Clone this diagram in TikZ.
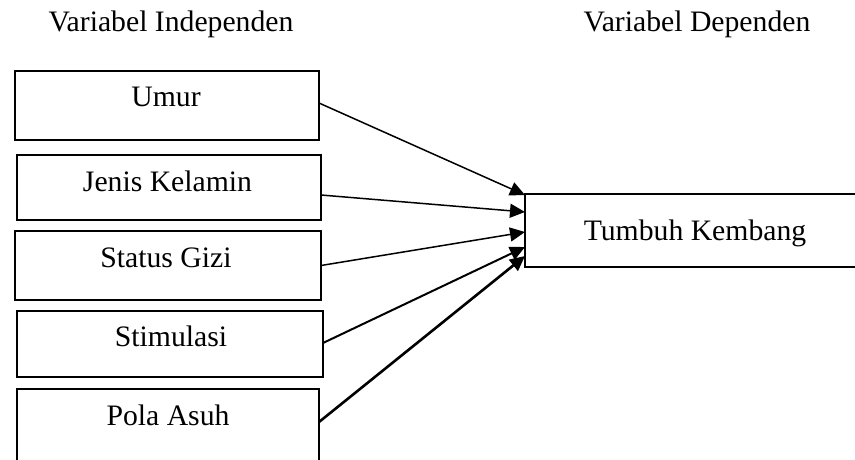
\documentclass[tikz,border=0pt]{standalone}
\usepackage{fontspec}
\setmainfont{Liberation Serif}
\usetikzlibrary{arrows.meta}
\begin{document}
\begin{tikzpicture}[x=1pt,y=-1pt,
  box/.style={draw,line width=2pt,inner sep=0pt,outer sep=0pt,rectangle},
  lbl/.style={inner sep=0pt,anchor=base,font=\fontsize{29.7}{34}\selectfont},
  arr/.style={line width=1.5pt,-{Triangle[length=15pt,width=14pt]}}]
\useasboundingbox (0,0) rectangle (855,459);
% headings
\node[lbl] (hind) at (171,31) {Variabel Independen};
\node[lbl] (hdep) at (697,31) {Variabel Dependen};
% independent variable boxes
\node[box,minimum width=304pt,minimum height=69pt] (umur) at (167,105.5) {};
\node[box,minimum width=304pt,minimum height=65pt] (jenis) at (169,187.5) {};
\node[box,minimum width=306pt,minimum height=69pt] (status) at (168,265.5) {};
\node[box,minimum width=306pt,minimum height=66pt] (stim) at (170,344) {};
\node[box,minimum width=302pt,minimum height=81pt] (pola) at (168,429.5) {};
% dependent variable box
\node[box,minimum width=345pt,minimum height=73pt] (tk) at (697.5,230.5) {};
% box texts
\node[lbl] (tumur) at (166,106.7) {Umur};
\node[lbl] (tjenis) at (167.5,191.7) {Jenis Kelamin};
\node[lbl] (tstatus) at (166,267) {Status Gizi};
\node[lbl] (tstim) at (171,346) {Stimulasi};
\node[lbl] (tpola) at (168,425) {Pola Asuh};
\node[lbl] (ttk) at (695,240) {Tumbuh Kembang};
% connectors
\draw[arr] ([yshift=2.5pt]umur.east) -- ([yshift=35.5pt]tk.west);
\draw[arr] ([yshift=-7.5pt]jenis.east) -- ([yshift=18.5pt]tk.west);
\draw[arr] (status.east) -- ([yshift=-1.5pt]tk.west);
\draw[arr,line width=2pt] ([yshift=1pt]stim.east) -- ([yshift=-16.5pt]tk.west);
\draw[arr,line width=2.6pt] ([yshift=7.5pt]pola.east) -- ([yshift=-25.5pt]tk.west);
\end{tikzpicture}
\end{document}
